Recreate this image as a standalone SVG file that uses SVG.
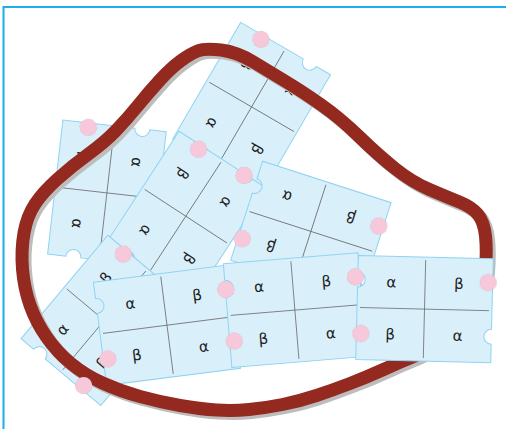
<svg xmlns="http://www.w3.org/2000/svg" xmlns:xlink="http://www.w3.org/1999/xlink" width="506" height="429" viewBox="0 0 506 429">
<defs>
<style>
.pc{fill:#D9F0FB;stroke:#8FD3F1;stroke-width:1}
.gl{stroke:#6b6b6b;stroke-width:0.8;fill:none}
.tab{fill:#F6C8DA;filter:drop-shadow(0.8px 0.8px 0.6px rgba(0,0,0,0.25))}
.lb{font-family:"DejaVu Sans","Liberation Sans",sans-serif;font-size:15px;fill:#222;text-anchor:middle}
.loop{fill:none;stroke:#93291F;stroke-width:13;stroke-linejoin:round}
.shadow{fill:none;stroke:#BDBDBD;stroke-width:13;stroke-linejoin:round}
</style>
<path id="shape" d="M0,0 H135 V70.5 A7.5,7.5 0 0 0 135,85.5 V104 H0 V31.5 A7.5,7.5 0 0 0 0,16.5 Z"/>
<path id="loopPath" d="M221,50 Q237,52 253.5,62 Q270,72 286.5,82 Q303,92 321.5,105 Q340,118 359,136.5 Q378,155 395,168.5 Q412,182 429.5,189.5 Q447,197 459.5,202 Q472,207 478,214.5 Q484,222 485.5,236 Q487,250 485.5,270 Q484,290 474.5,307.5 Q465,325 447.5,337.5 Q430,350 415,356 Q400,362 383.5,369.5 Q367,377 350,383.5 Q333,390 316.5,395.5 Q300,401 282.5,404.5 Q265,408 249,409.5 Q233,411 216.5,410 Q200,409 180,405.5 Q160,402 140,396.5 Q120,391 102.5,383 Q85,375 71,363.5 Q57,352 46.5,337 Q36,322 30,305 Q24,288 22.5,269 Q21,250 24,233 Q27,216 35,204 Q43,192 57.5,179 Q72,166 88.5,154 Q105,142 116,130.5 Q127,119 138,105.5 Q149,92 160,80 Q171,68 180.5,61 Q190,54 197.5,51 Q205,48 221,50 Z"/>
</defs>

<path id="frame" d="M3.5,429 V7 H506" fill="none" stroke="#1BAEEA" stroke-width="2"/>

<g id="pieceA" transform="translate(106.9,192.9) rotate(96.5) translate(-67.5,-52)">
 <use xlink:href="#shape" class="pc"/>
 <path class="gl" d="M67.5,3 V101 M3,52 H132"/>
 <text class="lb" x="33.75" y="31">α</text>
 <text class="lb" x="101.25" y="31">β</text>
 <text class="lb" x="33.75" y="83">β</text>
 <text class="lb" x="101.25" y="83">α</text>
 <circle class="tab" cx="130.5" cy="24" r="8.5"/>
 <circle class="tab" cx="4.5" cy="78" r="8.5"/>
</g>

<g id="pieceB" transform="translate(251.6,106.9) rotate(120.2) translate(-67.5,-52)">
 <use xlink:href="#shape" class="pc"/>
 <path class="gl" d="M67.5,3 V101 M3,52 H132"/>
 <text class="lb" x="33.75" y="31">α</text>
 <text class="lb" x="101.25" y="31">β</text>
 <text class="lb" x="33.75" y="83">β</text>
 <text class="lb" x="101.25" y="83">α</text>
 <circle class="tab" cx="4.5" cy="78" r="8.5"/>
</g>

<g id="pieceC" transform="translate(185.8,216.2) rotate(123.1) translate(-67.5,-52)">
 <use xlink:href="#shape" class="pc"/>
 <path class="gl" d="M67.5,3 V101 M3,52 H132"/>
 <text class="lb" x="33.75" y="31">α</text>
 <text class="lb" x="101.25" y="31">β</text>
 <text class="lb" x="33.75" y="83">β</text>
 <text class="lb" x="101.25" y="83">α</text>
 <circle class="tab" cx="130.5" cy="24" r="8.5"/>
 <circle class="tab" cx="4.5" cy="78" r="8.5"/>
</g>

<g id="pieceD" transform="translate(310.9,231.4) rotate(197.9) translate(-67.5,-52)">
 <use xlink:href="#shape" class="pc"/>
 <path class="gl" d="M67.5,3 V101 M3,52 H132"/>
 <text class="lb" x="33.75" y="31">α</text>
 <text class="lb" x="101.25" y="31">β</text>
 <text class="lb" x="33.75" y="83">β</text>
 <text class="lb" x="101.25" y="83">α</text>
 <circle class="tab" cx="130.5" cy="24" r="8.5"/>
 <circle class="tab" cx="4.5" cy="78" r="8.5"/>
</g>

<g id="pieceF" transform="translate(104.3,320.4) rotate(-50) translate(-67.5,-52)">
 <use xlink:href="#shape" class="pc"/>
 <path class="gl" d="M67.5,3 V101 M3,52 H132"/>
 <text class="lb" x="33.75" y="31">α</text>
 <text class="lb" x="101.25" y="31">β</text>
 <text class="lb" x="33.75" y="83">β</text>
 <text class="lb" x="101.25" y="83">α</text>
 <circle class="tab" cx="130.5" cy="24" r="8.5"/>
</g>

<g id="pieceE" transform="translate(167,325.2) rotate(-7.3) translate(-67.5,-52)">
 <use xlink:href="#shape" class="pc"/>
 <path class="gl" d="M67.5,3 V101 M3,52 H132"/>
 <text class="lb" x="33.75" y="31">α</text>
 <text class="lb" x="101.25" y="31">β</text>
 <text class="lb" x="33.75" y="83">β</text>
 <text class="lb" x="101.25" y="83">α</text>
 <circle class="tab" cx="4.5" cy="78" r="8.5"/>
</g>

<g id="pieceG" transform="translate(294.9,310.1) rotate(-4.7) translate(-67.5,-52)">
 <use xlink:href="#shape" class="pc"/>
 <path class="gl" d="M67.5,3 V101 M3,52 H132"/>
 <text class="lb" x="33.75" y="31">α</text>
 <text class="lb" x="101.25" y="31">β</text>
 <text class="lb" x="33.75" y="83">β</text>
 <text class="lb" x="101.25" y="83">α</text>
 <circle class="tab" cx="4.5" cy="78" r="8.5"/>
</g>

<g id="loop">
 <use xlink:href="#loopPath" class="shadow" transform="translate(3,3)"/>
 <use xlink:href="#loopPath" class="loop"/>
</g>

<g id="pieceH" transform="translate(424.5,309.1) rotate(1.4) translate(-67.5,-52)">
 <use xlink:href="#shape" class="pc"/>
 <path class="gl" d="M67.5,3 V101 M3,52 H132"/>
 <text class="lb" x="33.75" y="31">α</text>
 <text class="lb" x="101.25" y="31">β</text>
 <text class="lb" x="33.75" y="83">β</text>
 <text class="lb" x="101.25" y="83">α</text>
 <circle class="tab" cx="130.5" cy="24" r="8.5"/>
 <circle class="tab" cx="4.5" cy="78" r="8.5"/>
</g>

<g id="tabs-top">
 <circle class="tab" cx="244.1" cy="175.4" r="8.5"/>
 <circle class="tab" cx="225.9" cy="289.4" r="8.5"/>
 <circle class="tab" cx="355.4" cy="277" r="8.5"/>
 <circle class="tab" cx="83.7" cy="385.4" r="8.5"/>
</g>
</svg>
